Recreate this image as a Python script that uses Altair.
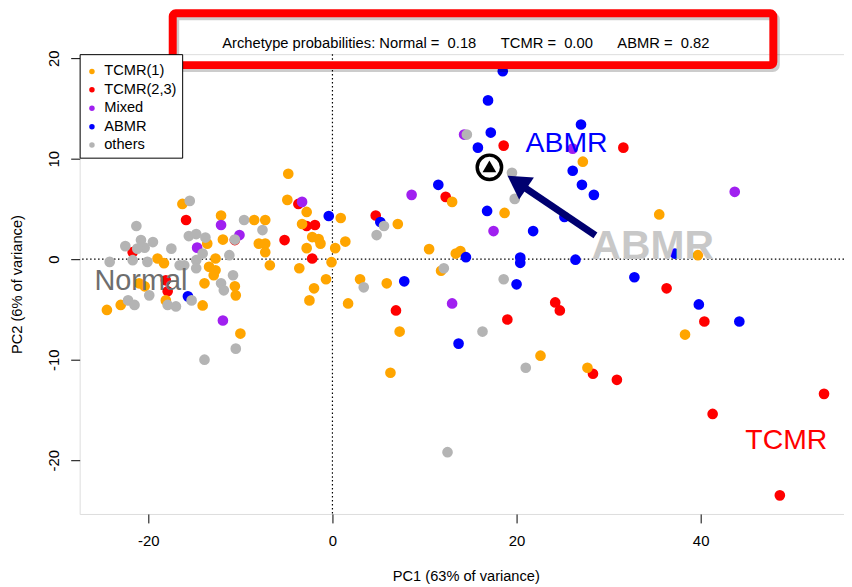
import altair as alt
import pandas as pd

# ---------------- data ----------------
groups = ["TCMR(1)", "TCMR(2,3)", "Mixed", "ABMR", "others"]
group_colors = ["#FFA500", "#FF0000", "#A020F0", "#0000FF", "#B4B4B4"]

tcmr1_x = [-4.8, -4.9, -2.8, -3.3, 0.9, -2.2, -1.5, -1.3, -2.8, 0.3, 1.4, -0.1, -3.6, -0.7,
           -2.0, -2.5, 1.7, -16.3, -12.1, -8.5, -7.3, -8.0, -7.3, -7.3, -6.8, -11.9, -13.6,
           -19.0, -18.3, -12.7, -13.4, -12.7, -12.9, -13.9, -10.6, -10.5, -14.1, -18.1, -23.0,
           -24.5, -21.0, -20.4, -10.0, 3.0, 5.9, 7.1, 13.0, 10.5, 13.4, 13.9, 11.8, 7.3, 6.3,
           18.7, 22.6, 27.2, 35.5, 39.7, 38.3, 27.7]
tcmr1_y = [8.5, 5.9, 4.7, 3.5, 4.1, 2.2, 2.0, 1.55, 1.1, 1.1, 1.75, -0.3, -0.9, -2.0,
           -2.9, -4.1, -4.4, 5.5, 4.35, 3.9, 3.9, 1.55, 1.55, 0.7, -0.6, 1.95, 1.55,
           0.07, -0.4, 0.07, -0.76, -1.1, -1.6, -2.4, -2.7, -3.6, -4.6, -4.1, -4.55,
           -5.05, -2.4, -2.7, -7.4, -2.0, -2.4, 3.5, 5.7, 1.0, 0.56, 0.8, -1.15, -7.2, -11.3,
           4.6, -9.6, 9.7, 4.45, 0.4, -7.5, -10.8]

tcmr23_x = [-3.7, -2.8, -1.9, -5.2, -2.2, -15.9, -10.6, -21.7, -18.1, -17.9, 4.7, 12.3, 6.9,
            19.0, 24.2, 24.7, 18.6, 31.6, 36.3, 40.4, 28.3, 30.9, 41.3, 53.4, 48.6]
tcmr23_y = [5.5, 3.3, 3.4, 1.9, 0.07, 3.9, 1.9, 0.7, -2.1, -3.2, 4.35, 6.2, -5.1,
            -6.0, -4.3, -5.1, 11.3, 11.1, -2.9, -6.2, -11.4, -12.0, -15.4, -13.4, -23.5]

mixed_x = [-3.3, -12.1, -10.1, -14.7, -11.9, 8.6, 13.0, 17.5, 14.3, 26.1, 43.7]
mixed_y = [5.7, 3.4, 2.4, 1.15, -6.1, 6.4, -4.4, 2.8, 12.4, 11.0, 6.7]

abmr_x = [-0.4, -15.7, 5.2, 7.8, 11.5, 14.5, 13.7, 20.0, 20.4, 20.4, 26.4, 21.8, 16.8, 26.1,
          25.2, 18.5, 16.9, 27.0, 17.2, 15.8, 27.1, 28.4, 37.2, 32.8, 39.8, 44.2]
abmr_y = [4.3, -3.7, 3.7, -2.2, 7.4, 0.2, -8.4, -2.5, 0.17, -0.36, -0.05, 2.8, 4.8, 8.8,
          4.2, 18.7, 15.8, 13.4, 12.6, 11.1, 7.4, 6.4, 0.56, -1.8, -4.5, -6.2]

others_x = [-15.5, -9.6, -7.6, -10.6, -13.8, -15.6, -14.8, -17.5, -21.3, -22.5, -20.8, -19.5,
            -20.4, -24.2, -21.7, -20.1, -14.1, -14.8, -11.2, -16.6, -16.1, -14.8, -10.8, -12.1,
            -11.8, -15.3, -17.0, -17.9, -19.9, -22.2, -21.5, -10.5, -13.9, 3.4, 5.6, 4.8, 12.1,
            16.3, 18.6, 21.0, 19.8, 19.5, 14.6, 12.5, -21.2]
others_y = [5.8, 3.9, 2.9, 1.95, 2.15, 2.3, 2.5, 1.05, 3.3, 1.3, 1.9, 1.7,
            1.15, -0.27, -0.1, -0.27, 0.56, -0.1, 0.4, -0.6, -0.6, -0.9, -1.6, -2.4,
            -3.1, -4.1, -4.7, -4.55, -3.6, -4.1, -4.55, -8.9, -10.0, -2.8, 3.3, 2.4, -0.9,
            -7.2, -2.0, -10.8, 6.0, 8.6, 12.4, -19.2, 1.05]

# archetype marker and arrow (data units)
archetype_x = [17.05]
archetype_y = [9.14]
arrow_start = [28.57, 2.38]
arrow_end = [20.6, 7.3]
arrow_head = [20.05, 7.67]

# region labels
label_text = ["ABMR", "ABMR", "TCMR", "Normal"]
label_x = [25.43, 34.8, 49.3, -20.8]
label_y = [10.62, -0.03, -18.9, -3.07]

title_text = ("Archetype probabilities: Normal =\u00a0\u00a00.18\u00a0\u00a0\u00a0\u00a0\u00a0\u00a0"
              "TCMR =\u00a0\u00a00.00\u00a0\u00a0\u00a0\u00a0\u00a0\u00a0ABMR =\u00a0\u00a00.82")

x_ticks = [-20, 0, 20, 40]
y_ticks = [-20, -10, 0, 10, 20]

# ---------------- frames ----------------
rows = []
for g, xs, ys in [("TCMR(2,3)", tcmr23_x, tcmr23_y), ("TCMR(1)", tcmr1_x, tcmr1_y),
                  ("Mixed", mixed_x, mixed_y), ("ABMR", abmr_x, abmr_y),
                  ("others", others_x, others_y)]:
    for a, b in zip(xs, ys):
        rows.append({"x": a, "y": b, "group": g})
pts = pd.DataFrame(rows)

labels = pd.DataFrame({"x": label_x, "y": label_y, "text": label_text})
arch = pd.DataFrame({"x": archetype_x, "y": archetype_y})
arrow = pd.DataFrame({"x": [arrow_start[0]], "y": [arrow_start[1]],
                      "x2": [arrow_end[0]], "y2": [arrow_end[1]]})
head = pd.DataFrame({"x": [arrow_head[0]], "y": [arrow_head[1]]})
zero = pd.DataFrame({"x": [0], "y": [0]})
one = pd.DataFrame({"t": [title_text]})

FONT = "Liberation Sans"

xscale = alt.Scale(domain=[-27.46, 55.57], nice=False, zero=False)
yscale = alt.Scale(domain=[-25.35, 20.40], nice=False, zero=False)

xaxis = alt.Axis(values=x_ticks, title="PC1 (63% of variance)", grid=False, domain=False,
                 tickSize=9, tickColor="black", tickWidth=1, labelPadding=11,
                 labelFont=FONT, labelFontSize=15, labelColor="black", labelBaseline="top",
                 labelAlign="center", labelFlush=False, labelExpr="'' + datum.value",
                 titleFont=FONT, titleFontSize=14.7, titleFontWeight="normal", titleColor="black",
                 titleX=388, titleY=63, titleBaseline="middle", titleAlign="center")
yaxis = alt.Axis(values=y_ticks, title="PC2 (6% of variance)", grid=False, domain=False,
                 tickSize=9, tickColor="black", tickWidth=1, labelPadding=12,
                 labelFont=FONT, labelFontSize=15, labelColor="black", labelAngle=-90,
                 labelAlign="center", labelBaseline="alphabetic", labelFlush=False,
                 labelExpr="'' + datum.value",
                 titleFont=FONT, titleFontSize=14.7, titleFontWeight="normal", titleColor="black",
                 titleAngle=270, titleX=-62, titleY=231, titleBaseline="middle", titleAlign="center")

X = alt.X("x:Q", scale=xscale, axis=xaxis)
Y = alt.Y("y:Q", scale=yscale, axis=yaxis)

vline = alt.Chart(zero).mark_rule(color="black", strokeDash=[1.5, 2.5], strokeWidth=1.2).encode(x=X)
hline = alt.Chart(zero).mark_rule(color="black", strokeDash=[1.5, 2.5], strokeWidth=1.2).encode(y=Y)

points = alt.Chart(pts).mark_circle(size=115, opacity=1).encode(
    x=X, y=Y,
    color=alt.Color("group:N", scale=alt.Scale(domain=groups, range=group_colors),
                    legend=alt.Legend(title=" ", titleFontSize=1, titlePadding=4,
                                      orient="top-left", offset=0, padding=5,
                                      strokeColor="black", fillColor="white",
                                      labelFont=FONT, labelFontSize=14.7, labelColor="black",
                                      symbolSize=30, symbolType="circle", rowPadding=2.5,
                                      labelOffset=5, symbolStrokeWidth=0, cornerRadius=0))
)

lab_abmr = alt.Chart(labels.iloc[[0]]).mark_text(font=FONT, fontSize=28.5, color="#0000FF",
                                                 baseline="alphabetic", align="center").encode(x=X, y=Y, text="text:N")
lab_abmr2 = alt.Chart(labels.iloc[[1]]).mark_text(font=FONT, fontSize=41, fontWeight="bold", color="#C8C8C8",
                                                  baseline="alphabetic", align="center").encode(x=X, y=Y, text="text:N")
lab_tcmr = alt.Chart(labels.iloc[[2]]).mark_text(font=FONT, fontSize=28.5, color="#FF0000",
                                                 baseline="alphabetic", align="center").encode(x=X, y=Y, text="text:N")
lab_norm = alt.Chart(labels.iloc[[3]]).mark_text(font=FONT, fontSize=29, color="#6E6E6E",
                                                 baseline="alphabetic", align="center").encode(x=X, y=Y, text="text:N")

arrow_line = alt.Chart(arrow).mark_rule(color="#000070", strokeWidth=7, strokeCap="butt").encode(
    x=X, y=Y, x2="x2:Q", y2="y2:Q")
arrow_tip = alt.Chart(head).mark_point(shape="triangle-up", size=705, filled=True, opacity=1,
                                       color="#000070", angle=304).encode(x=X, y=Y)

arch_ring = alt.Chart(arch).mark_point(shape="circle", size=600, filled=False, opacity=1,
                                       stroke="black", strokeWidth=3.5, fill="white").encode(x=X, y=Y)
arch_tri = alt.Chart(arch).mark_point(shape="triangle-up", size=190, filled=True, opacity=1,
                                      color="black", yOffset=-1).encode(x=X, y=Y)

title_mark = alt.Chart(one).mark_text(font=FONT, fontSize=14.8, color="black", baseline="alphabetic",
                                      align="center").encode(
    x=alt.value(388), y=alt.value(-6), text="t:N")

box_shadow = alt.Chart(one).mark_rect(filled=False, stroke="#000000", strokeOpacity=0.2, strokeWidth=8,
                                      cornerRadius=3).encode(
    x=alt.value(96), x2=alt.value(699.5), y=alt.value(-38), y2=alt.value(14))
red_box = alt.Chart(one).mark_rect(filled=False, stroke="#FF0000", strokeWidth=8, cornerRadius=3).encode(
    x=alt.value(93.5), x2=alt.value(697), y=alt.value(-41), y2=alt.value(11))

chart = alt.layer(
    vline, hline, points, lab_norm, lab_abmr, lab_abmr2, lab_tcmr,
    arrow_line, arrow_tip, arch_ring, arch_tri, title_mark, box_shadow, red_box
).properties(
    width=768, height=462,
    autosize=alt.AutoSizeParams(type="none"),
    padding={"left": 72, "top": 45, "right": 0, "bottom": 70},
).configure_view(stroke="black", strokeWidth=1).configure(background="white")

chart.save("out.html", embed_options={"renderer": "svg", "actions": False})
